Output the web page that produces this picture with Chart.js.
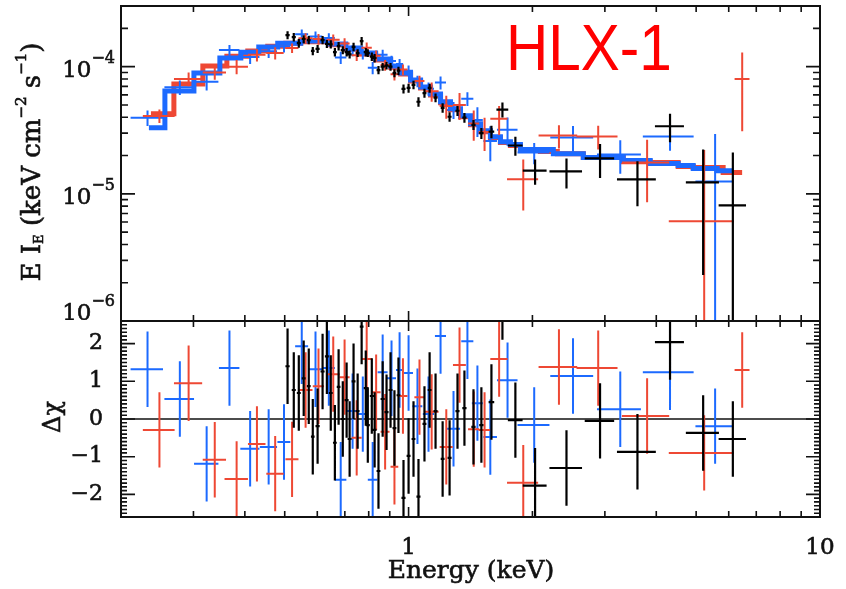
<!DOCTYPE html>
<html>
<head>
<meta charset="utf-8">
<title>HLX-1 spectrum</title>
<script src="https://cdn.jsdelivr.net/npm/chart.js@4.4.1/dist/chart.umd.min.js"></script>
<style>
  html, body { margin: 0; padding: 0; background: #fff; }
  .panel { position: absolute; left: 0; }
</style>
</head>
<body>
<canvas id="spec" class="panel" width="846" height="323" style="top:0"></canvas>
<canvas id="resid" class="panel" width="846" height="275" style="top:314px"></canvas>
<script>
// energies in keV, half bin widths, unfolded flux E*I_E and residuals (delta chi)
const blackEnergy = [0.508, 0.526, 0.541, 0.556, 0.572, 0.585, 0.601, 0.618, 0.633, 0.647,
  0.662, 0.676, 0.692, 0.707, 0.719, 0.735, 0.752, 0.769, 0.787, 0.796,
  0.814, 0.827, 0.845, 0.865, 0.884, 0.904, 0.924, 0.945, 0.972, 1.0,
  1.028, 1.057, 1.093, 1.125, 1.163, 1.21, 1.258, 1.315, 1.367, 1.438,
  1.503, 1.59, 1.691, 1.818, 2.03, 2.42, 2.92, 3.6, 4.32, 5.2, 6.14];
const blackEnergyErr = [0.006, 0.006, 0.006, 0.006, 0.006, 0.006, 0.007, 0.007, 0.007, 0.007,
  0.007, 0.007, 0.008, 0.008, 0.008, 0.008, 0.008, 0.008, 0.009, 0.009,
  0.009, 0.009, 0.009, 0.01, 0.01, 0.01, 0.01, 0.01, 0.011, 0.011,
  0.011, 0.012, 0.012, 0.012, 0.013, 0.013, 0.014, 0.015, 0.016, 0.017,
  0.018, 0.025, 0.056, 0.075, 0.135, 0.22, 0.24, 0.39, 0.35, 0.48, 0.47];
const blackFlux = [1.77e-4, 1.71e-4, 1.53e-4, 1.65e-4, 1.62e-4, 1.33e-4, 1.38e-4, 1.62e-4, 1.51e-4, 1.50e-4,
  1.30e-4, 1.45e-4, 1.35e-4, 1.30e-4, 1.25e-4, 1.43e-4, 1.28e-4, 1.59e-4, 1.30e-4, 1.28e-4,
  1.20e-4, 1.17e-4, 9.4e-5, 1.0e-4, 1.02e-4, 1.0e-4, 8.9e-5, 9.3e-5, 6.7e-5, 6.8e-5,
  7.2e-5, 5.3e-5, 6.2e-5, 6.8e-5, 5.7e-5, 4.75e-5, 4.04e-5, 4.5e-5, 3.97e-5, 3.49e-5,
  3.0e-5, 3.08e-5, 4.6e-5, 2.4e-5, 1.52e-5, 1.5e-5, 1.9e-5, 1.3e-5, 3.4e-5, 1.23e-5, 8.1e-6];
const blackFluxErr = [1.3e-5, 1.3e-5, 1.2e-5, 1.2e-5, 1.2e-5, 1.0e-5, 1.0e-5, 1.2e-5, 1.1e-5, 1.1e-5,
  1.0e-5, 1.1e-5, 1.0e-5, 1.0e-5, 9e-6, 1.1e-5, 9e-6, 1.2e-5, 1.0e-5, 9e-6,
  9e-6, 9e-6, 7e-6, 7e-6, 7e-6, 7e-6, 6.5e-6, 7e-6, 5.5e-6, 5.5e-6,
  5.5e-6, 4.5e-6, 5e-6, 5.5e-6, 4.5e-6, 4e-6, 3.5e-6, 4e-6, 3.5e-6, 3.2e-6,
  3e-6, 3.5e-6, 6.2e-6, 4.1e-6, 3.4e-6, 4e-6, 5.7e-6, 5e-6, 8.6e-6, 1.0e-5, 1.3e-5];
const blackResid = [1.40, 0.77, 0.69, 1.08, 0.87, -0.47, -0.19, 1.26, 1.66, 0.69,
  -0.63, 0.85, 0.0, 0.5, -0.53, 1.0, 0.21, 2.45, 0.82, -0.16,
  0.61, -0.29, -1.38, 0.53, 0.18, 0.77, -0.24, 0.63, -2.09, -0.98,
  -0.53, -2.06, -0.13, 0.77, 0.21, -1.06, -1.03, 0.21, 0.29, -0.21,
  -0.16, 0.45, 3.1, -0.03, -1.77, -1.3, -0.05, -0.87, 2.04, -0.37, -0.53];

const redEnergy = [0.248, 0.292, 0.338, 0.382, 0.428, 0.474, 0.521, 0.562, 0.604, 0.656,
  0.699, 0.748, 0.791, 0.834, 0.877, 0.924, 0.969, 1.063, 1.138, 1.235,
  1.33, 1.44, 1.53, 1.66, 1.9, 2.32, 2.89, 3.8, 5.23, 6.47];
const redEnergyErr = [0.022, 0.023, 0.022, 0.025, 0.021, 0.023, 0.019, 0.022, 0.019, 0.024,
  0.02, 0.021, 0.023, 0.021, 0.022, 0.02, 0.025, 0.03, 0.045, 0.045,
  0.048, 0.045, 0.05, 0.08, 0.165, 0.25, 0.33, 0.5, 0.94, 0.27];
const redFlux = [4.1e-5, 8.0e-5, 9.0e-5, 1.0e-4, 1.24e-4, 1.28e-4, 1.40e-4, 1.67e-4, 1.65e-4, 1.63e-4,
  1.52e-4, 1.23e-4, 1.41e-4, 1.22e-4, 1.03e-4, 8.7e-5, 9.5e-5, 7.7e-5, 6.4e-5, 4.9e-5,
  5.0e-5, 3.57e-5, 3.07e-5, 3.9e-5, 1.3e-5, 2.87e-5, 2.83e-5, 1.76e-5, 6.1e-6, 8.0e-5];
const redFluxErr = [5e-6, 1.0e-5, 1.1e-5, 1.3e-5, 1.4e-5, 1.4e-5, 1.2e-5, 1.6e-5, 1.6e-5, 1.6e-5,
  1.5e-5, 1.2e-5, 1.4e-5, 1.2e-5, 1.0e-5, 9e-6, 9e-6, 8e-6, 1.1e-5, 1.0e-5,
  1.2e-5, 9.6e-6, 9e-6, 1.0e-5, 5.6e-6, 6e-6, 6e-6, 9e-6, 1.6e-5, 4.9e-5];
const redResid = [-0.29, 0.95, -1.08, -1.59, -0.66, -1.45, -1.07, 0.77, 0.87, 1.19,
  1.11, -0.5, 1.59, 0.71, -0.34, -1.27, 0.61, 0.58, 0.19, -0.74,
  1.43, -0.27, -0.29, 1.59, -1.69, 1.38, 1.35, 0.08, -0.9, 1.3];

const blueEnergy = [0.232, 0.278, 0.323, 0.367, 0.412, 0.457, 0.498, 0.550, 0.594, 0.640,
  0.684, 0.731, 0.774, 0.818, 0.865, 0.909, 0.951, 1.0, 1.051, 1.118,
  1.196, 1.286, 1.39, 1.47, 1.58, 1.74, 2.02, 2.51, 3.27, 4.32, 5.56];
const blueEnergyErr = [0.021, 0.023, 0.022, 0.021, 0.022, 0.022, 0.018, 0.02, 0.023, 0.022,
  0.022, 0.025, 0.022, 0.022, 0.024, 0.023, 0.019, 0.025, 0.029, 0.035,
  0.037, 0.048, 0.047, 0.045, 0.06, 0.10, 0.18, 0.30, 0.4, 0.61, 0.58];
const blueFlux = [3.97e-5, 6.9e-5, 7.6e-5, 1.35e-4, 1.19e-4, 1.32e-4, 1.44e-4, 1.8e-4, 1.73e-4, 1.68e-4,
  1.18e-4, 1.34e-4, 1.26e-4, 9.8e-5, 1.24e-4, 1.11e-4, 1.05e-4, 9.3e-5, 7.7e-5, 6.7e-5,
  7.5e-5, 4.57e-5, 5.6e-5, 3.8e-5, 2.6e-5, 3.19e-5, 2.11e-5, 2.77e-5, 2.04e-5, 2.83e-5, 1.25e-5];
const blueFluxErr = [5.5e-6, 9e-6, 1.1e-5, 1.3e-5, 1.4e-5, 1.5e-5, 1.5e-5, 1.6e-5, 1.6e-5, 1.5e-5,
  1.3e-5, 1.3e-5, 1.2e-5, 1.1e-5, 1.2e-5, 1.1e-5, 1.0e-5, 9e-6, 8e-6, 8e-6,
  8.8e-6, 7e-6, 7e-6, 1.0e-5, 8e-6, 8e-6, 4e-6, 6.5e-6, 6e-6, 6.5e-6, 1.7e-5];
const blueResid = [1.32, 0.53, -1.19, 1.35, -0.79, -0.74, -0.61, 1.93, 1.32, 1.35,
  -1.61, 0.21, 0.13, -1.61, 1.24, 1.08, 1.3, 1.22, 0.34, 0.13,
  2.2, -0.26, 2.06, 0.42, -0.48, 1.03, -0.16, 1.14, 0.26, 1.24, -0.19];

// folded models: bin edges (keV) and value in each bin
const redModelEdges = [0.2365, 0.2689, 0.3162, 0.3617, 0.4066, 0.4547, 0.5029, 0.5468, 0.6466, 0.7035,
  0.7646, 0.8315, 0.9044, 0.9563, 1.0112, 1.0694, 1.1308, 1.1959, 1.2646, 1.3373,
  1.4142, 1.4955, 1.5812, 1.6721, 1.7683, 1.87, 2.0912, 2.2993, 2.6589, 3.325,
  3.867, 4.5213, 4.9183, 5.8156, 6.4673];
const redModel = [4.26e-5, 7.32e-5, 1.01e-4, 1.21e-4, 1.33e-4, 1.45e-4, 1.53e-4, 1.57e-4, 1.49e-4, 1.38e-4,
  1.26e-4, 1.13e-4, 9.9e-5, 8.77e-5, 7.73e-5, 6.81e-5, 6.0e-5, 5.2e-5, 4.58e-5, 4.04e-5,
  3.49e-5, 3.08e-5, 2.77e-5, 2.53e-5, 2.4e-5, 2.23e-5, 2.15e-5, 2.07e-5, 1.93e-5, 1.79e-5,
  1.76e-5, 1.64e-5, 1.61e-5, 1.47e-5];
const blueModelEdges = [0.2338, 0.2557, 0.3008, 0.3478, 0.3911, 0.4324, 0.4808, 0.5468, 0.6466, 0.7035,
  0.7646, 0.8315, 0.9044, 0.9563, 1.0112, 1.0694, 1.1308, 1.1959, 1.2646, 1.3373,
  1.4142, 1.4955, 1.5812, 1.6721, 1.7683, 1.87, 2.2483, 2.6589, 3.325, 3.867,
  4.5213, 4.9183, 5.6234, 6.1146];
const blueModel = [3.31e-5, 6.45e-5, 8.93e-5, 1.17e-4, 1.30e-4, 1.43e-4, 1.53e-4, 1.59e-4, 1.51e-4, 1.40e-4,
  1.28e-4, 1.15e-4, 1.01e-4, 8.93e-5, 7.87e-5, 6.93e-5, 6.11e-5, 5.29e-5, 4.66e-5, 4.11e-5,
  3.56e-5, 3.14e-5, 2.81e-5, 2.57e-5, 2.44e-5, 2.23e-5, 2.07e-5, 1.93e-5, 1.83e-5, 1.73e-5,
  1.67e-5, 1.58e-5, 1.52e-5];

// labelled ticks
const energyTickValues = [1, 10];
const energyTickLabels = ['1', '10'];
const fluxTickValues = [1e-6, 1e-5, 1e-4];
const fluxTickExps = ['\u22126', '\u22125', '\u22124'];
const residTickValues = [-2, -1, 0, 1, 2];
const residTickLabels = ['\u22122', '\u22121', '0', '1', '2'];

const BLACK = '#000000';
const RED = 'rgb(238,72,52)';
const BLUE = 'rgb(28,106,255)';
const INK = '#111';
const SERIF = '"DejaVu Serif", "Liberation Serif", serif';

// one cross per bin: horizontal bar = bin, vertical bar = error
function crosses(e, eErr, v, vErr, floor) {
  const pts = [];
  for (let i = 0; i < e.length; i++) {
    const err = Array.isArray(vErr) ? vErr[i] : vErr;
    let lo = v[i] - err;
    if (floor !== undefined) lo = Math.max(lo, floor);
    pts.push({ x: e[i] - eErr[i], y: v[i] }, { x: e[i] + eErr[i], y: v[i] }, { x: e[i], y: null });
    pts.push({ x: e[i], y: lo }, { x: e[i], y: v[i] + err }, { x: e[i], y: null });
  }
  return pts;
}

function steps(edges, vals) {
  const pts = vals.map((v, i) => ({ x: edges[i], y: v }));
  pts.push({ x: edges[edges.length - 1], y: vals[vals.length - 1] });
  return pts;
}

function logTicks(lo, hi) {
  const out = [];
  for (let p = Math.floor(Math.log10(lo)); p <= Math.ceil(Math.log10(hi)); p++) {
    for (let k = 1; k < 10; k++) {
      const v = k * Math.pow(10, p);
      if (v >= lo * 0.999 && v <= hi * 1.001) out.push({ v, major: k === 1 });
    }
  }
  return out;
}
const residTicks = [];
for (let i = -26; i <= 26; i++) residTicks.push({ v: i / 10, major: i % 10 === 0 });

function errSet(data, color, order, width) {
  return { type: 'line', data, borderColor: color, borderWidth: width || 2, pointRadius: 0,
    spanGaps: false, fill: false, order, borderCapStyle: 'butt' };
}

const noPad = s => { s.paddingTop = 0; s.paddingBottom = 0; s.paddingLeft = 0; s.paddingRight = 0; };

const frame = {
  id: 'frame',
  afterDatasetsDraw(chart, args, o) {
    const { ctx, chartArea: a } = chart;
    const sx = chart.scales.x, sy = chart.scales.y;
    ctx.save();
    ctx.strokeStyle = INK;
    ctx.lineWidth = 1.6;
    ctx.beginPath();
    for (const t of o.xTicks) {
      const p = sx.getPixelForValue(t.v);
      const len = t.major ? o.xLen[0] : o.xLen[1];
      ctx.moveTo(p, a.bottom); ctx.lineTo(p, a.bottom - len);
      ctx.moveTo(p, a.top); ctx.lineTo(p, a.top + len);
    }
    for (const t of o.yTicks) {
      const p = sy.getPixelForValue(t.v);
      const len = t.major ? o.yLen[0] : o.yLen[1];
      ctx.moveTo(a.left, p); ctx.lineTo(a.left + len, p);
      ctx.moveTo(a.right, p); ctx.lineTo(a.right - len, p);
    }
    ctx.stroke();
    ctx.lineWidth = 2;
    ctx.strokeRect(a.left, a.top, a.right - a.left, a.bottom - a.top);
    ctx.restore();
  }
};

// fill plus a thin stroke, to get the heavy look of the figure's serif
function heavyText(ctx, text, x, y) {
  ctx.fillText(text, x, y);
  ctx.strokeText(text, x, y);
}

function richText(ctx, parts, x, y, rotate) {
  ctx.save();
  ctx.translate(x, y);
  if (rotate) ctx.rotate(-Math.PI / 2);
  ctx.textBaseline = 'alphabetic';
  ctx.textAlign = 'left';
  ctx.strokeStyle = ctx.fillStyle;
  ctx.lineWidth = 0.6;
  let total = 0;
  for (const p of parts) {
    ctx.font = p.size + 'px ' + SERIF;
    p.w = ctx.measureText(p.text).width;
    total += p.w;
  }
  let cx = -total / 2;
  for (const p of parts) {
    ctx.font = p.size + 'px ' + SERIF;
    heavyText(ctx, p.text, cx, p.dy || 0);
    cx += p.w;
  }
  ctx.restore();
}

const specText = {
  id: 'specText',
  afterDraw(chart) {
    const { ctx } = chart;
    const sy = chart.scales.y;
    ctx.save();
    // the lowest label is cut by the residual panel, as in the figure
    ctx.beginPath();
    ctx.rect(0, 0, chart.width, 320);
    ctx.clip();
    ctx.fillStyle = INK;
    ctx.strokeStyle = INK;
    ctx.lineWidth = 0.6;
    fluxTickValues.forEach((v, i) => {
      const py = Math.min(sy.getPixelForValue(v), 310);
      ctx.font = '23px ' + SERIF;
      const w1 = ctx.measureText('10').width;
      ctx.font = '16px ' + SERIF;
      const w2 = ctx.measureText(fluxTickExps[i]).width;
      const x0 = 115 - w1 - w2;
      ctx.font = '23px ' + SERIF;
      heavyText(ctx, '10', x0, py + 10);
      ctx.font = '16px ' + SERIF;
      heavyText(ctx, fluxTickExps[i], x0 + w1, py - 4);
    });
    richText(ctx, [
      { text: 'E I', size: 26 },
      { text: 'E', size: 13, dy: 3 },
      { text: ' (keV cm', size: 26 },
      { text: '\u22122', size: 15, dy: -14 },
      { text: ' s', size: 26 },
      { text: '\u22121', size: 15, dy: -14 },
      { text: ')', size: 26 }
    ], 40, 162, true);
    ctx.fillStyle = '#ff0000';
    ctx.font = '65px "Liberation Sans", Arial, sans-serif';
    ctx.translate(506, 69.5);
    ctx.scale(0.9, 1);
    ctx.fillText('HLX-1', 0, 0);
    ctx.restore();
  }
};

const residText = {
  id: 'residText',
  afterDraw(chart) {
    const { ctx } = chart;
    ctx.save();
    ctx.fillStyle = INK;
    richText(ctx, [{ text: '\u0394\u03c7', size: 24 }], 60, 103, true);
    richText(ctx, [{ text: 'Energy (keV)', size: 25 }], 471, 264, false);
    ctx.restore();
  }
};

const common = {
  responsive: false,
  animation: false,
  events: [],
  plugins: { legend: { display: false }, tooltip: { enabled: false } }
};

new Chart(document.getElementById('spec'), {
  type: 'line',
  data: {
    datasets: [
      errSet(crosses(blackEnergy, blackEnergyErr, blackFlux, blackFluxErr, 1e-8), BLACK, 1, 2.2),
      errSet(crosses(redEnergy, redEnergyErr, redFlux, redFluxErr, 1e-8), RED, 2),
      errSet(crosses(blueEnergy, blueEnergyErr, blueFlux, blueFluxErr, 1e-8), BLUE, 3),
      { type: 'line', data: steps(blueModelEdges, blueModel), stepped: 'before', borderColor: BLUE,
        borderWidth: 5, pointRadius: 0, fill: false, order: 4, borderJoinStyle: 'miter' },
      { type: 'line', data: steps(redModelEdges, redModel), stepped: 'before', borderColor: RED,
        borderWidth: 5, pointRadius: 0, fill: false, order: 5, borderJoinStyle: 'miter' }
    ]
  },
  options: {
    ...common,
    layout: { padding: { top: 6, right: 26, bottom: 2, left: 0 } },
    scales: {
      x: { type: 'logarithmic', min: 0.2, max: 10, display: false },
      y: {
        type: 'logarithmic', min: 1e-6, max: 3e-4,
        grid: { display: false }, border: { display: false },
        ticks: { display: false },
        afterFit: s => { s.width = 121; noPad(s); }
      }
    },
    plugins: {
      ...common.plugins,
      frame: { xTicks: logTicks(0.2, 10), yTicks: logTicks(1e-6, 3e-4), xLen: [10, 6], yLen: [14, 7] }
    }
  },
  plugins: [frame, specText]
});

new Chart(document.getElementById('resid'), {
  type: 'line',
  data: {
    datasets: [
      errSet(crosses(blackEnergy, blackEnergyErr, blackResid, 1), BLACK, 1, 2.2),
      errSet(crosses(redEnergy, redEnergyErr, redResid, 1), RED, 2),
      errSet(crosses(blueEnergy, blueEnergyErr, blueResid, 1), BLUE, 3),
      { type: 'line', data: [{ x: 0.2, y: 0 }, { x: 10, y: 0 }], borderColor: INK,
        borderWidth: 1.6, pointRadius: 0, fill: false, order: 6 }
    ]
  },
  options: {
    ...common,
    layout: { padding: { top: 7, right: 26, bottom: 0, left: 0 } },
    scales: {
      x: {
        type: 'logarithmic', min: 0.2, max: 10,
        grid: { display: false }, border: { display: false },
        afterBuildTicks: s => { s.ticks = energyTickValues.map(v => ({ value: v, major: true })); },
        ticks: {
          autoSkip: false, maxRotation: 0, padding: 9, color: INK,
          textStrokeColor: INK, textStrokeWidth: 0.6,
          font: { family: SERIF, size: 23 },
          callback: (v, i) => energyTickLabels[i]
        },
        afterFit: s => { s.height = 72; noPad(s); }
      },
      y: {
        type: 'linear', min: -2.6, max: 2.6,
        grid: { display: false }, border: { display: false },
        afterBuildTicks: s => { s.ticks = residTickValues.map(v => ({ value: v })); },
        ticks: {
          autoSkip: false, padding: 10, color: INK,
          textStrokeColor: INK, textStrokeWidth: 0.6,
          font: { family: SERIF, size: 22 },
          callback: (v, i) => residTickLabels[i]
        },
        afterFit: s => { s.width = 121; noPad(s); }
      }
    },
    plugins: {
      ...common.plugins,
      frame: { xTicks: logTicks(0.2, 10), yTicks: residTicks, xLen: [10, 6], yLen: [14, 6] }
    }
  },
  plugins: [frame, residText]
});
</script>
</body>
</html>
